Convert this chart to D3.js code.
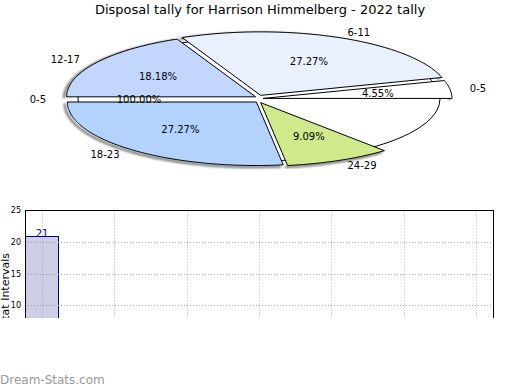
<!DOCTYPE html>
<html>
<head>
<meta charset="utf-8">
<script src="https://cdn.jsdelivr.net/npm/d3@7"></script>
<style>
  body { margin: 0; background: #fff; }
  svg { display: block; font-family: "DejaVu Sans", sans-serif; }
</style>
</head>
<body>
<div id="chart"></div>
<script>
// pie data (slices in drawing order, counter-clockwise from 3 o'clock)
var pieLabels = ["0-5", "6-11", "12-17", "0-5", "18-23", "24-29"];
var pieCounts = [1, 6, 4, 0, 6, 2];
var pieTotal = 22;
var piePctText = ["4.55%", "27.27%", "18.18%", "100.00%", "27.27%", "9.09%"];
var pieColors = ["#ffffff", "#e9f1fe", "#c3d6fe", "#ffffff", "#b3d3fe", "#cfe98b"];

// bar data (only the first bar is visible in the cropped chart)
var barCategories = ["1", "2", "3", "4", "5", "6", "7"];
var barValues = [21, null, null, null, null, null, null];
var yTicks = [25, 20, 15, 10, 5, 0];

var W = 520, H = 390;

var svg = d3.select("#chart").append("svg")
    .attr("width", W)
    .attr("height", H);

svg.append("text")
    .attr("x", 260).attr("y", 14)
    .attr("text-anchor", "middle")
    .style("font-size", "13px")
    .text("Disposal tally for Harrison Himmelberg - 2022 tally");

//util: point on the tilted pie
function ellipse_pt(cx, cy, rx, ry, t) {
    return [cx + rx * Math.cos(t), cy - ry * Math.sin(t)];
}

function slice_path(cx, cy, rx, ry, a0, a1) {
    var p = d3.path();
    p.moveTo(cx, cy);
    var n = Math.max(2, Math.ceil((a1 - a0) / (Math.PI / 180)));
    for (var i = 0; i <= n; i++) {
        var xy = ellipse_pt(cx, cy, rx, ry, a0 + (a1 - a0) * i / n);
        p.lineTo(xy[0], xy[1]);
    }
    p.closePath();
    return p.toString();
}

function arc_path(cx, cy, rx, ry, a0, a1) {
    var pts = [];
    var n = Math.max(2, Math.ceil((a1 - a0) / (Math.PI / 180)));
    for (var i = 0; i <= n; i++) pts.push(ellipse_pt(cx, cy, rx, ry, a0 + (a1 - a0) * i / n));
    return d3.line()(pts);
}

var cx = 259, cy = 99;
var rx = 189, ry = 63.5;
var explode = 4;

var defs = svg.append("defs");
defs.append("filter").attr("id", "blur")
    .append("feGaussianBlur").attr("stdDeviation", 0.8);

var pie = d3.pie().sort(null).value(function (d) { return d; })
    .startAngle(0)
    .endAngle(2 * Math.PI * d3.sum(pieCounts) / pieTotal);
var arcs = pie(pieCounts);

var pieG = svg.append("g");

// base plate of the pie
pieG.append("ellipse")
    .attr("cx", cx).attr("cy", cy)
    .attr("rx", 181).attr("ry", 62)
    .attr("fill", "#fff")
    .attr("stroke", "#000");

// shadow along the outer rim
arcs.forEach(function (a, i) {
    if (a.endAngle - a.startAngle <= 0) return;
    var mid = (a.startAngle + a.endAngle) / 2;
    var ox = cx + explode * Math.cos(mid), oy = cy - explode * Math.sin(mid);
    pieG.append("path")
        .attr("d", arc_path(ox - 2.5, oy + 1.5, rx, ry, a.startAngle, a.endAngle))
        .attr("fill", "none")
        .attr("stroke", "#777")
        .attr("stroke-width", 2.5)
        .attr("filter", "url(#blur)");
});

arcs.forEach(function (a, i) {
    if (a.endAngle - a.startAngle <= 0) return;
    var mid = (a.startAngle + a.endAngle) / 2;
    var ox = cx + explode * Math.cos(mid), oy = cy - explode * Math.sin(mid);
    pieG.append("path")
        .attr("d", slice_path(ox, oy, rx, ry, a.startAngle, a.endAngle))
        .attr("fill", pieColors[i])
        .attr("stroke", "#000")
        .attr("stroke-width", 1);
});

// labels
arcs.forEach(function (a, i) {
    var mid = (a.startAngle + a.endAngle) / 2;
    var c = Math.cos(mid);
    var pp = ellipse_pt(cx, cy, 120, 41, mid);
    pieG.append("text")
        .attr("x", pp[0]).attr("y", pp[1])
        .attr("dy", "0.35em")
        .attr("text-anchor", "middle")
        .style("font-size", "10px")
        .text(piePctText[i]);
    var lp = ellipse_pt(cx, cy, 213, 73, mid);
    pieG.append("text")
        .attr("x", lp[0]).attr("y", lp[1])
        .attr("dy", "0.35em")
        .attr("text-anchor", c > 0.05 ? "start" : (c < -0.05 ? "end" : "middle"))
        .style("font-size", "10px")
        .text(pieLabels[i]);
});

// bar chart (cropped at the bottom)
defs.append("clipPath").attr("id", "barclip")
    .append("rect").attr("x", 0).attr("y", 200).attr("width", W).attr("height", 118);

var barG = svg.append("g").attr("clip-path", "url(#barclip)");

var plotLeft = 25, plotRight = 493, plotTop = 210.5, plotBottom = 368.5;

var x = d3.scalePoint().domain(barCategories).range([plotLeft, plotRight]).padding(0.235);
var y = d3.scaleLinear().domain([0, 25]).range([plotBottom, plotTop]);
var barW = 33;

barG.selectAll(".hgrid")
    .data(yTicks.filter(function (d) { return d < 25; }))
    .enter().append("line")
    .attr("x1", plotLeft).attr("x2", plotRight)
    .attr("y1", function (d) { return Math.round(y(d)) + 0.5; })
    .attr("y2", function (d) { return Math.round(y(d)) + 0.5; })
    .attr("stroke", "#aaa")
    .attr("stroke-dasharray", "1,2");

var bars = barCategories.map(function (c, i) { return {cat: c, v: barValues[i]}; })
    .filter(function (d) { return d.v !== null; });

barG.selectAll(".bar")
    .data(bars)
    .enter().append("rect")
    .attr("x", function (d) { return Math.round(x(d.cat) - barW / 2) + 0.5; })
    .attr("y", function (d) { return Math.round(y(d.v)) + 0.5; })
    .attr("width", barW)
    .attr("height", function (d) { return y(0) - y(d.v); })
    .attr("fill", "#cecee6")
    .attr("stroke", "#000080");

// dotted grid is drawn over the bars, as in the original
barG.selectAll(".hgrid2")
    .data(yTicks.filter(function (d) { return d < 25; }))
    .enter().append("line")
    .attr("x1", plotLeft).attr("x2", plotLeft + barW + 2)
    .attr("y1", function (d) { return Math.round(y(d)) + 0.5; })
    .attr("y2", function (d) { return Math.round(y(d)) + 0.5; })
    .attr("stroke", "#999")
    .attr("stroke-dasharray", "1,2");

barG.selectAll(".vgrid")
    .data(barCategories)
    .enter().append("line")
    .attr("x1", function (d) { return Math.round(x(d)) + 0.5; })
    .attr("x2", function (d) { return Math.round(x(d)) + 0.5; })
    .attr("y1", plotTop).attr("y2", plotBottom)
    .attr("stroke", "#aaa")
    .attr("stroke-dasharray", "1,2");

barG.selectAll(".blabel")
    .data(bars)
    .enter().append("text")
    .attr("x", function (d) { return x(d.cat); })
    .attr("y", function (d) { return y(d.v) + 1; })
    .attr("text-anchor", "middle")
    .attr("fill", "#000080")
    .style("font-size", "10px")
    .text(function (d) { return d.v; });

barG.append("rect")
    .attr("x", plotLeft + 0.5).attr("y", plotTop)
    .attr("width", plotRight - plotLeft).attr("height", plotBottom - plotTop)
    .attr("fill", "none")
    .attr("stroke", "#000");

barG.selectAll(".ytick")
    .data(yTicks)
    .enter().append("text")
    .attr("x", 21)
    .attr("y", function (d) { return y(d); })
    .attr("dy", "0.35em")
    .attr("text-anchor", "end")
    .style("font-size", "8px")
    .text(function (d) { return d; });

barG.append("text")
    .attr("transform", "translate(9,253) rotate(-90)")
    .attr("text-anchor", "end")
    .style("font-size", "11px")
    .text("Stat Intervals");

svg.append("text")
    .attr("x", 0).attr("y", 384)
    .attr("fill", "#999")
    .style("font-size", "12px")
    .text("Dream-Stats.com");
</script>
</body>
</html>
